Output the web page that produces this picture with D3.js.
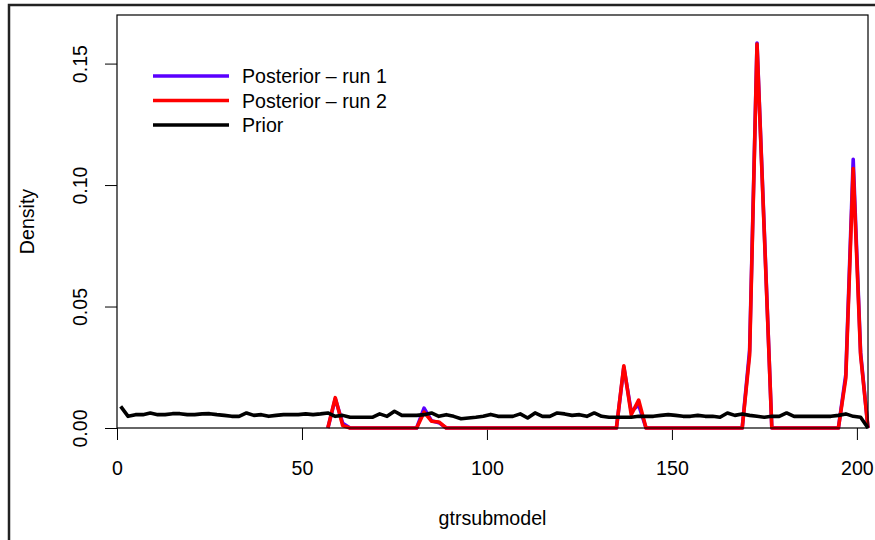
<!DOCTYPE html>
<html>
<head>
<meta charset="utf-8">
<title>gtrsubmodel density</title>
<script src="https://cdn.jsdelivr.net/npm/d3@7"></script>
<style>
  body { margin: 0; background: #fff; }
  svg { display: block; font-family: "Liberation Sans", Arial, sans-serif; }
</style>
</head>
<body>
<svg id="chart" width="875" height="540"></svg>
<script>
// prior density, one value per odd gtrsubmodel index 1..203
const priorX = d3.range(1, 204, 2);
const priorY = [
  0.0089, 0.0048, 0.0055, 0.0055, 0.0062, 0.0055, 0.0055, 0.0059, 0.0059, 0.0055,
  0.0055, 0.0058, 0.0059, 0.0055, 0.0052, 0.0048, 0.0048, 0.0062, 0.0052, 0.0055,
  0.0048, 0.0052, 0.0055, 0.0055, 0.0055, 0.0058, 0.0055, 0.0058, 0.0062, 0.0048,
  0.0052, 0.0044, 0.0044, 0.0044, 0.0044, 0.0058, 0.0048, 0.0069, 0.0052, 0.0052,
  0.0052, 0.0055, 0.0062, 0.0048, 0.0055, 0.0048, 0.0038, 0.0041, 0.0044, 0.0048,
  0.0056, 0.0048, 0.0048, 0.0048, 0.0058, 0.0041, 0.0062, 0.0048, 0.0048, 0.0062,
  0.0058, 0.0052, 0.0055, 0.0048, 0.0062, 0.0048, 0.0044, 0.0044, 0.0044, 0.0044,
  0.0048, 0.0048, 0.0048, 0.0052, 0.0055, 0.0052, 0.0048, 0.0048, 0.0052, 0.0048,
  0.0048, 0.0044, 0.0062, 0.0052, 0.0058, 0.0052, 0.0048, 0.0044, 0.0048, 0.0048,
  0.0062, 0.0048, 0.0048, 0.0048, 0.0048, 0.0048, 0.0048, 0.0052, 0.0058, 0.0048,
  0.0044, 0
];

// posterior densities, odd indices 57..203
const postX = d3.range(57, 204, 2);
const run1Y = [
  0, 0.012, 0.002, 0, 0, 0, 0, 0, 0, 0,
  0, 0, 0, 0.0082, 0.003, 0.0022, 0, 0, 0, 0,
  0, 0, 0, 0, 0, 0, 0, 0, 0, 0,
  0, 0, 0, 0, 0, 0, 0, 0, 0, 0,
  0.025, 0.0068, 0.0095, 0, 0, 0, 0, 0, 0, 0,
  0, 0, 0, 0, 0, 0, 0, 0.032, 0.1585, 0.08,
  0, 0, 0, 0, 0, 0, 0, 0, 0, 0,
  0.022, 0.1106, 0.031, 0
];
const run2Y = [
  0, 0.0125, 0.001, 0, 0, 0, 0, 0, 0, 0,
  0, 0, 0, 0.0065, 0.0028, 0.0025, 0, 0, 0, 0,
  0, 0, 0, 0, 0, 0, 0, 0, 0, 0,
  0, 0, 0, 0, 0, 0, 0, 0, 0, 0,
  0.0256, 0.0055, 0.0115, 0, 0, 0, 0, 0, 0, 0,
  0, 0, 0, 0, 0, 0, 0, 0.030, 0.158, 0.079,
  0, 0, 0, 0, 0, 0, 0, 0, 0, 0,
  0.0205, 0.1068, 0.030, 0
];

const xTicks = [0, 50, 100, 150, 200];
const yTicks = [0, 0.05, 0.10, 0.15];
const legendNames = ["Posterior \u2013 run 1", "Posterior \u2013 run 2", "Prior"];
const legendColors = ["#5a00ff", "#ff0000", "#000000"];

const mLeft = 117, mRight = 868, mTop = 15, mBottom = 428;
const fontSize = "19.6px";

const svg = d3.select("#chart");

// outer frame (partly cropped)
svg.append("rect")
  .attr("x", 9).attr("y", 5)
  .attr("width", 900).attr("height", 600)
  .attr("fill", "none")
  .attr("stroke", "#222")
  .attr("stroke-width", 2.5);

const x = d3.scaleLinear().domain([0, 203]).range([mLeft, mRight]);
const y = d3.scaleLinear().domain([0, 0.17]).range([mBottom, mTop]);

const line = d3.line()
  .x(function(d){ return x(d[0]); })
  .y(function(d){ return y(d[1]); });

// x axis
const xAxis = svg.append("g")
  .attr("transform", "translate(0," + mBottom + ")")
  .call(d3.axisBottom(x).tickValues(xTicks).tickSize(12).tickFormat(d3.format("d")));
xAxis.select(".domain").remove();
xAxis.selectAll("line").attr("stroke", "#000");
xAxis.selectAll("text")
  .attr("y", 47).attr("dy", null)
  .attr("fill", "#000")
  .style("font-size", fontSize)
  .style("font-family", "Liberation Sans, Arial, sans-serif");

// y axis
const yAxis = svg.append("g")
  .attr("transform", "translate(" + mLeft + ",0)")
  .call(d3.axisLeft(y).tickValues(yTicks).tickSize(12).tickFormat(d3.format(".2f")));
yAxis.select(".domain").remove();
yAxis.selectAll("line").attr("stroke", "#000");
yAxis.selectAll("text")
  .attr("transform", "rotate(-90)")
  .attr("x", 0).attr("y", -30).attr("dy", null)
  .attr("text-anchor", "middle")
  .attr("fill", "#000")
  .style("font-size", fontSize)
  .style("font-family", "Liberation Sans, Arial, sans-serif");

// series
const series = [
  { pts: d3.zip(postX, run1Y), color: legendColors[0] },
  { pts: d3.zip(postX, run2Y), color: legendColors[1] },
  { pts: d3.zip(priorX, priorY), color: legendColors[2] }
];

svg.selectAll("path.series")
  .data(series)
  .enter()
  .append("path")
  .attr("class", "series")
  .attr("d", function(d){ return line(d.pts); })
  .attr("fill", "none")
  .attr("stroke", function(d){ return d.color; })
  .attr("stroke-width", 3.6)
  .attr("stroke-linejoin", "round");

// plot box
svg.append("rect")
  .attr("x", mLeft).attr("y", mTop)
  .attr("width", mRight - mLeft).attr("height", mBottom - mTop)
  .attr("fill", "none")
  .attr("stroke", "#000")
  .attr("stroke-width", 1.2);

// legend
const leg = svg.selectAll("g.leg")
  .data(legendNames)
  .enter()
  .append("g")
  .attr("class", "leg")
  .attr("transform", function(d, i){ return "translate(153," + (76 + i * 24.5) + ")"; });

leg.append("line")
  .attr("x1", 0).attr("x2", 76)
  .attr("stroke", function(d, i){ return legendColors[i]; })
  .attr("stroke-width", 3.6);

leg.append("text")
  .attr("x", 89).attr("y", 7)
  .style("font-size", fontSize)
  .text(function(d){ return d; });

// axis titles
svg.append("text")
  .attr("x", (mLeft + mRight) / 2).attr("y", 525)
  .attr("text-anchor", "middle")
  .style("font-size", fontSize)
  .text("gtrsubmodel");

svg.append("text")
  .attr("transform", "translate(34," + ((mTop + mBottom) / 2) + ") rotate(-90)")
  .attr("text-anchor", "middle")
  .style("font-size", fontSize)
  .text("Density");
</script>
</body>
</html>
